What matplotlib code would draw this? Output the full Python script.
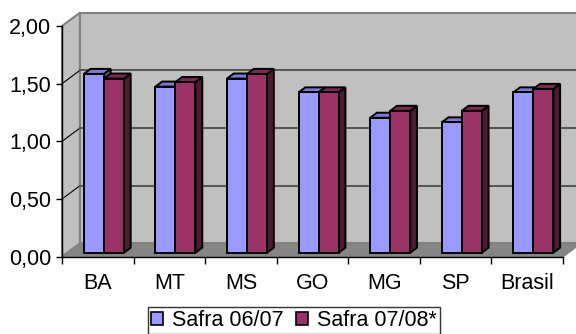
import numpy as np
import matplotlib.pyplot as plt
from matplotlib.patches import Polygon, Patch

# ---------------------------------------------------------
# Data
# ---------------------------------------------------------

categories = ["BA", "MT", "MS", "GO", "MG", "SP", "Brasil"]
safra_0607 = [1.55, 1.44, 1.51, 1.39, 1.17, 1.13, 1.39]
safra_0708 = [1.51, 1.48, 1.55, 1.39, 1.23, 1.23, 1.42]
series_names = ["Safra 06/07", "Safra 07/08*"]
y_ticks = [0.0, 0.5, 1.0, 1.5, 2.0]

# ---------------------------------------------------------
# Style
# ---------------------------------------------------------

plt.rcParams["font.family"] = ["Liberation Sans", "DejaVu Sans"]
FONT_SIZE = 15.5

WALL = "#c0c0c0"
FLOOR = "#858585"
EDGE = "#808080"
GRID = "#555555"

# front, top, side shades for each series
SHADES = [
    ("#9999ff", "#7a7ad0", "#5c5c99"),
    ("#993366", "#7a2952", "#4d1a33"),
]

# oblique depth offset, in data units
DX = 0.25
DY = 0.115
D0, D1 = 0.30, 0.68
BAR_W = 0.28
BAR_OFF = 0.23

fig = plt.figure(figsize=(5.76, 3.34), dpi=100)
ax = fig.add_axes([62 / 576, 77.3 / 334, 501 / 576, 230.7 / 334])
ax.set_xlim(0, len(categories))
ax.set_ylim(0, 2)
ax.patch.set_visible(False)

n = len(categories)


def poly(points, face, edge, lw, z):
    ax.add_patch(Polygon(points, closed=True, facecolor=face, edgecolor=edge,
                         linewidth=lw, zorder=z, clip_on=False))


# walls and floor
poly([(DX, DY), (n + DX, DY), (n + DX, 2 + DY), (DX, 2 + DY)], WALL, EDGE, 1.5, 0)
poly([(0, 0), (DX, DY), (DX, 2 + DY), (0, 2)], WALL, EDGE, 1.5, 0)
poly([(0, 0), (n, 0), (n + DX, DY), (DX, DY)], FLOOR, EDGE, 1.0, 0.5)

# gridlines on the side and back walls
for v in y_ticks[1:-1]:
    ax.plot([0, DX], [v, v + DY], color="black", lw=0.8, zorder=1, clip_on=False)
    ax.plot([DX, n + DX], [v + DY, v + DY], color=GRID, lw=1.4, zorder=1,
            clip_on=False)

# bars
for i in range(n):
    for j, values in enumerate([safra_0607, safra_0708]):
        v = values[i]
        front, top, side = SHADES[j]
        x0 = i + BAR_OFF + j * BAR_W
        x1 = x0 + BAR_W
        z = 2 + i + j * 0.1
        poly([(x1 + D0 * DX, D0 * DY), (x1 + D1 * DX, D1 * DY),
              (x1 + D1 * DX, v + D1 * DY), (x1 + D0 * DX, v + D0 * DY)],
             side, "black", 1.4, z)
        poly([(x0 + D0 * DX, v + D0 * DY), (x1 + D0 * DX, v + D0 * DY),
              (x1 + D1 * DX, v + D1 * DY), (x0 + D1 * DX, v + D1 * DY)],
             top, "black", 1.4, z)
        poly([(x0 + D0 * DX, D0 * DY), (x1 + D0 * DX, D0 * DY),
              (x1 + D0 * DX, v + D0 * DY), (x0 + D0 * DX, v + D0 * DY)],
             front, "black", 1.4, z)

# axes
for side in ["top", "right"]:
    ax.spines[side].set_visible(False)
for side in ["left", "bottom"]:
    ax.spines[side].set_color("black")
    ax.spines[side].set_linewidth(1.0)
    ax.spines[side].set_zorder(20)

ax.set_yticks(y_ticks)
ax.set_yticklabels([f"{t:.2f}".replace(".", ",") for t in y_ticks],
                   fontsize=FONT_SIZE)
ax.tick_params(axis="y", length=4, width=1, pad=4)

ax.set_xticks(np.arange(n + 1))
ax.set_xticklabels([])
ax.set_xticks(np.arange(n) + 0.5, minor=True)
ax.set_xticklabels(categories, minor=True, fontsize=FONT_SIZE)
ax.tick_params(axis="x", which="major", length=5, width=1)
ax.tick_params(axis="x", which="minor", length=0, pad=12)

# legend
handles = [Patch(facecolor=SHADES[k][0], edgecolor="black", linewidth=1.2)
           for k in range(2)]
fig.legend(handles, series_names, loc="center", ncol=2,
           bbox_to_anchor=(0.51, 0.04), frameon=True, fancybox=False,
           edgecolor="black", fontsize=FONT_SIZE, handlelength=0.55,
           handleheight=0.55, handletextpad=0.4, columnspacing=0.6,
           borderpad=0.15, borderaxespad=0)
fig.legends[0].get_frame().set_linewidth(1.0)

fig.savefig("out.png", dpi=100)
